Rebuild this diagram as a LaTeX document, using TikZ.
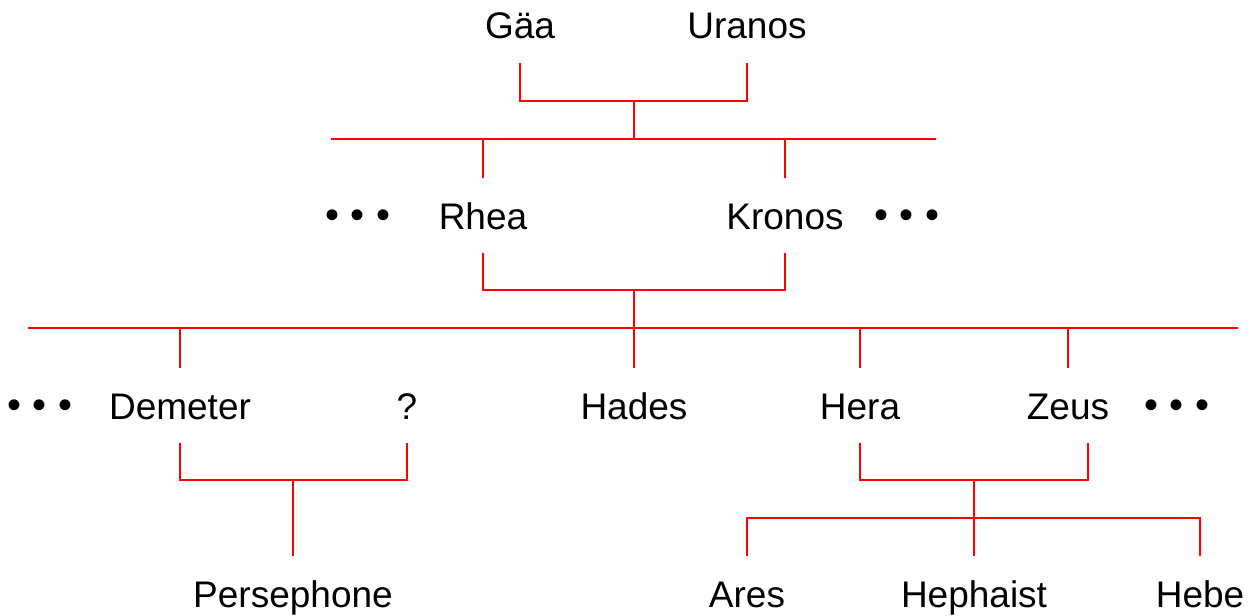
\documentclass[tikz,border=0pt]{standalone}
\usepackage{fontspec}
\setmainfont{Liberation Sans}
\begin{document}
\begin{tikzpicture}[x=0.5pt,y=-0.5pt,
    person/.style={anchor=base,font=\fontsize{18.5}{22}\selectfont,text height=17.5pt,text depth=4pt,inner xsep=0pt,inner ysep=8pt},
    more/.style={person,font=\fontsize{20}{24}\selectfont},
    line/.style={draw=red,line width=1pt}]
    \useasboundingbox (0,0) rectangle (1256,615);

    % Gaea and Uranos
    \node[person] (gaea) at (520,39) {Gäa};
    \node[person] (uranos) at (747,39) {Uranos};
    \coordinate (gu) at (634,101);
    \coordinate (titans) at (634,139);
    \coordinate (titansW) at (331,139);
    \coordinate (titansE) at (936,139);
    \draw[line] (gaea.south) |- (gu) -| (uranos.south);
    \draw[line] (gu) -- (titans);
    \draw[line] (titansW) -- (titansE);

    % Titans
    \node[more] (dotsA) at (358,228) {• • •};
    \node[person] (rhea) at (483,229) {Rhea};
    \node[person] (kronos) at (785,229) {Kronos};
    \node[more] (dotsB) at (907,228) {• • •};
    \foreach \n in {rhea,kronos}
        \draw[line] (\n.north) -- (\n.north |- titans);

    \coordinate (rk) at (634,290);
    \coordinate (gods) at (634,328);
    \coordinate (godsW) at (28,328);
    \coordinate (godsE) at (1238,328);
    \draw[line] (rhea.south) |- (rk) -| (kronos.south);
    \draw[line] (rk) -- (gods);
    \draw[line] (godsW) -- (godsE);

    % Olympians
    \node[more] (dotsC) at (40,418) {• • •};
    \node[person] (demeter) at (180,419) {Demeter};
    \node[person] (unknown) at (407,419) {?};
    \node[person] (hades) at (634,419) {Hades};
    \node[person] (hera) at (860,419) {Hera};
    \node[person] (zeus) at (1068,419) {Zeus};
    \node[more] (dotsD) at (1177,418) {• • •};
    \foreach \n in {demeter,hades,hera,zeus}
        \draw[line] (\n.north) -- (\n.north |- gods);

    % children
    \node[person] (persephone) at (293,607) {Persephone};
    \node[person] (ares) at (747,607) {Ares};
    \node[person] (hephaist) at (974,607) {Hephaist};
    \node[person] (hebe) at (1200,607) {Hebe};

    \coordinate (du) at (293,480);
    \draw[line] (demeter.south) |- (du) -| (unknown.south);
    \draw[line] (du) -- (persephone.north);

    \coordinate (hz) at (974,480);
    \coordinate (kids) at (974,518);
    \draw[line] (hera.south) |- (hz) -| ([xshift=10pt]zeus.south);
    \draw[line] (hz) -- (hephaist.north);
    \draw[line] (ares.north) |- (kids) -| (hebe.north);
\end{tikzpicture}
\end{document}
